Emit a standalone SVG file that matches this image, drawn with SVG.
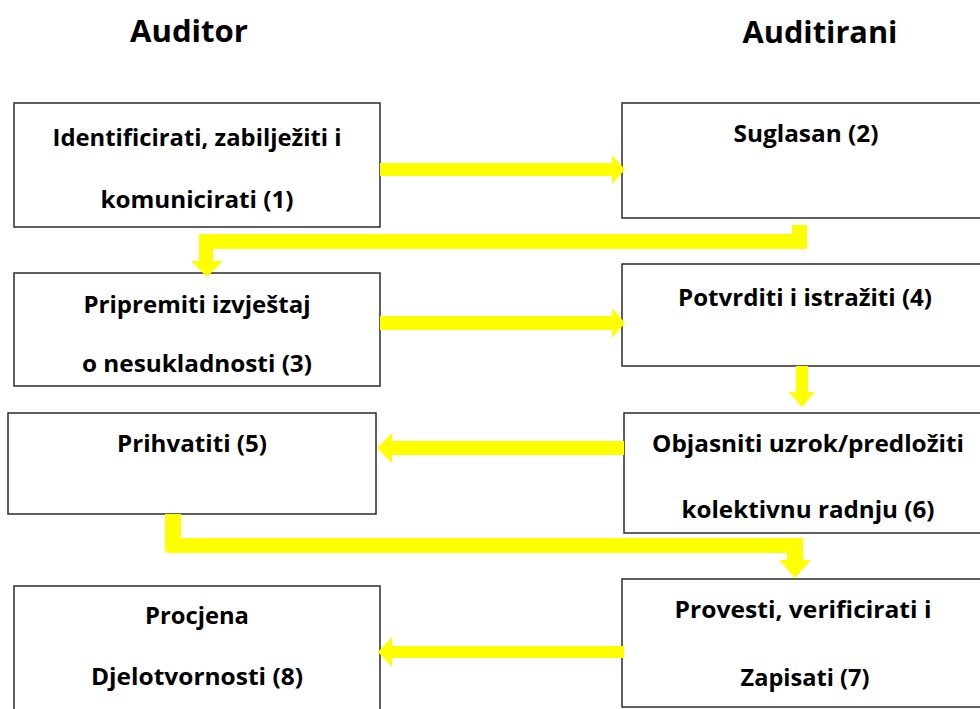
<svg xmlns="http://www.w3.org/2000/svg" width="980" height="709" viewBox="0 0 980 709">
<style>
.box{fill:#fff;stroke:#2b2b2b;stroke-width:1.5}
.t{font-family:"Open Sans","Noto Sans",sans-serif;font-weight:bold;font-size:24px;fill:#000;text-anchor:middle}
.h{font-family:"Open Sans","Noto Sans",sans-serif;font-weight:bold;font-size:31px;fill:#000;text-anchor:middle}
.c{fill:#ffff00;stroke:none}
</style>
<rect width="980" height="709" fill="#fff"/>
<text class="h" x="189" y="42" textLength="118" lengthAdjust="spacingAndGlyphs">Auditor</text>
<text class="h" x="820" y="43" textLength="155" lengthAdjust="spacingAndGlyphs">Auditirani</text>
<g id="n1"><rect class="box" x="14" y="103" width="366" height="124"/>
<text class="t" x="197" y="146" textLength="289" lengthAdjust="spacingAndGlyphs">Identificirati, zabilježiti i</text>
<text class="t" x="197" y="208" textLength="193" lengthAdjust="spacingAndGlyphs">komunicirati (1)</text></g>
<g id="n2"><rect class="box" x="622" y="103" width="370" height="115"/>
<text class="t" x="806" y="142" textLength="145" lengthAdjust="spacingAndGlyphs">Suglasan (2)</text></g>
<g id="n3"><rect class="box" x="14" y="273" width="366" height="113"/>
<text class="t" x="197" y="313" textLength="227" lengthAdjust="spacingAndGlyphs">Pripremiti izvještaj</text>
<text class="t" x="197" y="372" textLength="230" lengthAdjust="spacingAndGlyphs">o nesukladnosti (3)</text></g>
<g id="n4"><rect class="box" x="622" y="264" width="370" height="102"/>
<text class="t" x="805" y="306" textLength="254" lengthAdjust="spacingAndGlyphs">Potvrditi i istražiti (4)</text></g>
<g id="n5"><rect class="box" x="8" y="413" width="368" height="101"/>
<text class="t" x="192" y="452" textLength="150" lengthAdjust="spacingAndGlyphs">Prihvatiti (5)</text></g>
<g id="n6"><rect class="box" x="624" y="413" width="368" height="120"/>
<text class="t" x="808" y="452" textLength="312" lengthAdjust="spacingAndGlyphs">Objasniti uzrok/predložiti</text>
<text class="t" x="808" y="518" textLength="253" lengthAdjust="spacingAndGlyphs">kolektivnu radnju (6)</text></g>
<g id="n7"><rect class="box" x="622" y="579" width="370" height="128"/>
<text class="t" x="803" y="618" textLength="257" lengthAdjust="spacingAndGlyphs">Provesti, verificirati i</text>
<text class="t" x="805" y="686" textLength="129" lengthAdjust="spacingAndGlyphs">Zapisati (7)</text></g>
<g id="n8"><rect class="box" x="14" y="586" width="366" height="140"/>
<text class="t" x="197" y="624" textLength="104" lengthAdjust="spacingAndGlyphs">Procjena</text>
<text class="t" x="197" y="685" textLength="212" lengthAdjust="spacingAndGlyphs">Djelotvornosti (8)</text></g>
<g id="connectors">
<polygon class="c" points="380,163 612,163 612,155 625,169.5 612,184 612,176 380,176"/>
<polygon class="c" points="807,225 807,249 213,249 213,261 223,261 207,277 191,261 199,261 199,234 792,234 792,225"/>
<polygon class="c" points="380,316 612,316 612,308 625,323 612,338 612,330 380,330"/>
<polygon class="c" points="796,366 808,366 808,392 815,392 802,407 789,392 796,392"/>
<polygon class="c" points="624,441 392,441 392,433 377,448 392,463 392,455 624,455"/>
<path class="c" d="M165,514 L181,514 L181,538 L803,538 L803,560 L811,560 L795,578 L779,560 L787,560 L787,553 L169,553 Q165,553 165,549 Z"/>
<polygon class="c" points="624,646 392,646 392,637 378,652 392,667 392,658 624,658"/>
</g>
</svg>
